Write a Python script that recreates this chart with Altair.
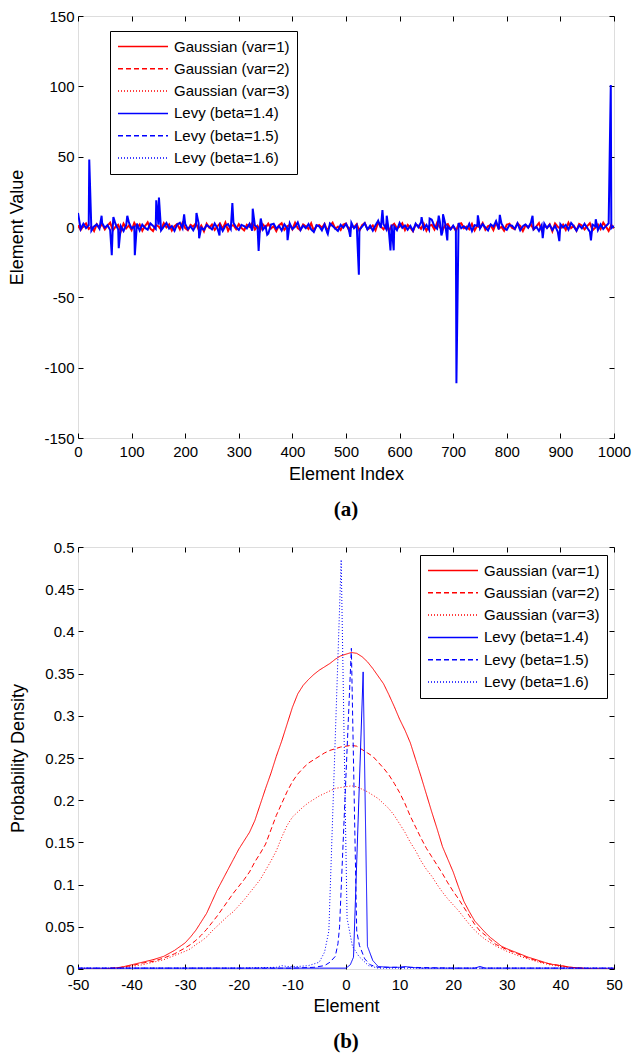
import altair as alt
import pandas as pd

# ---------------- shared series definitions ----------------
series_names = ["Gaussian (var=1)", "Gaussian (var=2)", "Gaussian (var=3)",
                "Levy (beta=1.4)", "Levy (beta=1.5)", "Levy (beta=1.6)"]
series_colors = ["#ff0000", "#ff0000", "#ff0000", "#0000ff", "#0000ff", "#0000ff"]
series_dash = [[1, 0], [5, 3], [1, 2], [1, 0], [5, 3], [1, 2]]

# ---------------- panel (a): element values ----------------
a_index = [i * 5 for i in range(201)]
a_red = [
    1.2, -2.1, 0.8, 2.6, -1.4, 0.3, -2.8, 1.9, -0.6, 2.2,
    -1.7, 0.9, 3.1, -2.4, 0.2, 1.6, -3.0, 2.4, -0.9, 1.1,
    -2.2, 2.9, -0.4, 1.8, -2.6, 0.7, 3.3, -1.2, -2.9, 1.4,
    0.5, -1.8, 2.7, -0.3, 1.9, -2.5, 0.6, 2.1, -1.6, 3.0,
    -0.8, -2.3, 1.5, 0.2, 2.8, -1.9, 1.0, -3.1, 2.3, -0.5,
    1.7, -2.0, 0.4, 2.5, -1.3, 3.2, -2.7, 0.9, 1.3, -1.5,
    2.0, -0.7, -2.4, 1.6, 0.1, 2.9, -1.8, 0.8, -2.6, 1.9,
    -0.4, 2.4, -1.1, 0.6, -2.9, 1.2, 2.7, -2.0, 0.3, 1.5,
    -1.6, 3.0, -0.9, -2.2, 1.8, 0.5, -1.4, 2.6, -2.8, 0.7,
    1.4, -0.6, 2.2, -2.5, 0.9, 3.1, -1.2, 0.2, -2.1, 1.7,
    2.5, -1.9, 0.6, -0.3, 2.0, -2.7, 1.3, 2.8, -1.5, -0.8,
    1.1, -2.4, 3.3, 0.4, -1.7, 1.9, -2.9, 0.8, 2.3, -1.0,
    0.2, 2.6, -2.2, 1.5, -0.5, -3.0, 1.8, 0.9, -1.3, 2.4,
    -2.6, 0.7, 1.6, -1.8, 3.0, -0.2, -2.3, 1.2, 2.1, -1.4,
    0.5, -2.8, 1.9, 2.7, -0.9, 0.3, -1.6, 2.2, -2.5, 1.0,
    -0.4, 2.9, -1.9, 0.6, 1.4, -2.2, 3.2, -1.1, 0.1, -2.7,
    1.7, 2.3, -0.7, -1.5, 2.6, 0.8, -2.9, 1.3, -0.3, 2.0,
    -1.8, 0.4, 2.8, -2.4, 1.1, -0.6, 1.9, -3.1, 2.5, 0.2,
    -1.2, 1.6, -2.0, 3.0, -0.8, 0.9, -2.6, 2.2, 1.0, -1.7,
    0.6, 2.7, -2.3, -0.5, 1.8, -1.4, 3.1, 0.3, -2.8, 1.5,
    -0.9,
]
a_blue = [
    10.0, -1.5, 2.3, -0.8, 1.1, -2.6, 0.4, 1.9, -1.2, 2.8,
    -0.5, 1.3, -2.2, 0.9, 2.1, -1.8, 0.6, -2.9, 1.5, 3.2,
    -1.0, 0.3, 2.4, -2.5, 1.7, -0.6, -1.9, 2.6, 0.8, -1.3,
    1.6, -2.4, 0.2, 2.9, -1.1, 0.7, -2.7, 1.8, 3.0, -0.9,
    2.2, -1.6, 0.5, -2.3, 1.2, 2.7, -0.4, -2.0, 1.4, 0.1,
    -1.7, 2.5, -0.7, 1.0, -2.8, 0.9, 2.0, -1.4, 3.1, -0.2,
    -2.1, 1.5, 0.6, -1.0, 2.3, -2.6, 1.1, -0.3, 2.8, -1.9,
    0.4, -4.8, 1.7, 2.4, -1.2, 0.8, -2.5, 1.9, -0.6, 2.6,
    -1.5, 0.2, 3.3, -2.2, 1.0, -0.8, 2.1, -1.7, -3.6, 1.3,
    0.5, -2.4, 1.8, -4.2, 2.5, 0.7, -1.1, -2.8, 1.6, -0.5,
    2.2, -1.3, 3.0, -0.9, 1.4, -2.1, 0.3, 2.7, -1.8, 0.9,
    -2.6, 1.2, 4.5, -0.7, 2.0, -1.5, -3.1, 1.7, 0.4, -2.3,
    2.9, -0.6, 1.1, -1.9, 0.8, -2.7, 2.4, -0.2, 3.4, -1.4,
    1.5, -2.0, 5.2, 0.6, -1.2, 4.1, -3.5, 2.6, 0.2, -1.8,
    1.0, -2.2, 2.8, -0.9, 0.5, -1.6, 2.3, -2.9, 1.3, 0.7,
    -1.1, 2.1, -0.4, -2.5, 1.9, 0.3, 4.2, -1.7, 2.5, -0.8,
    -2.0, 1.4, 0.9, -1.3, 2.7, -2.4, 0.6, 1.8, -0.5, 3.1,
    -1.6, 0.2, -2.8, 1.2, 2.4, -0.7, 1.6, -2.1, 0.8, -3.3,
    2.0, -0.3, 1.5, -1.9, 2.9, 0.4, -2.6, 1.1, -1.0, 2.3,
    -0.6, -3.4, 1.7, 0.5, -2.2, 1.9, -1.4, 0.7, 2.6, -0.9,
    0.8,
]
a_spike_index = [21, 44, 63, 66, 76, 92, 106, 146, 151, 198, 221, 226, 264, 288,
                 326, 337, 341, 353, 391, 466, 508, 524, 568, 576, 583, 589, 641,
                 656, 673, 678, 681, 689, 706, 746, 787, 848, 867, 898, 957, 966,
                 994]
a_spike_value = [48, 8, -20, 7, -15, 8, -20, 19, 21, 9, 10, -8, -6, 17,
                 13, -17, 6, -5.5, -9.4, -5, -7, -34, 12, 8, -16.6, -16.6, 7,
                 6, 8, -6, 9, -9.5, -111, 8.3, 8.6, 8, -8, -10, -9.5, 5.5,
                 101]

a_x_ticks = [0, 100, 200, 300, 400, 500, 600, 700, 800, 900, 1000]
a_y_ticks = [-150, -100, -50, 0, 50, 100, 150]

# ---------------- panel (b): probability densities ----------------
g_x = [-50, -46, -44, -42, -40, -38, -36, -34, -32,
       -30, -29, -28, -27, -26, -25, -24, -23, -22, -21, -20, -19, -18, -17, -16,
       -15, -14, -13, -12, -11, -10, -9, -8, -7, -6, -5, -4, -3, -2, -1,
       0, 1, 2, 3, 4, 5, 6, 7, 8, 9, 10, 11, 12, 13, 14, 15, 16, 17, 18, 19,
       20, 21, 22, 23, 24, 25, 26, 27, 28, 29, 30,
       32, 34, 36, 38, 40, 42, 44, 46, 50]
g1_y = [0, 0, 0.0005, 0.002, 0.005, 0.008, 0.011, 0.015, 0.022,
        0.031, 0.038, 0.046, 0.056, 0.066, 0.08, 0.094, 0.106, 0.118, 0.13, 0.142,
        0.152, 0.162, 0.176, 0.195,
        0.214, 0.232, 0.252, 0.27, 0.29, 0.31, 0.326, 0.336, 0.343, 0.349, 0.354,
        0.358, 0.362, 0.367, 0.371,
        0.373, 0.375, 0.374, 0.37, 0.364, 0.356, 0.347, 0.338, 0.325, 0.311, 0.296,
        0.283, 0.268, 0.248, 0.228, 0.207, 0.186, 0.166, 0.145, 0.13,
        0.115, 0.097, 0.08, 0.068, 0.057, 0.05, 0.043, 0.037, 0.032, 0.027, 0.024,
        0.019, 0.014, 0.01, 0.006, 0.004, 0.002, 0.001, 0, 0]
g2_y = [0, 0, 0.001, 0.002, 0.004, 0.007, 0.009, 0.013, 0.018,
        0.025, 0.029, 0.034, 0.04, 0.047, 0.055, 0.063, 0.072, 0.081, 0.09, 0.098,
        0.106, 0.115, 0.127, 0.137,
        0.148, 0.165, 0.182, 0.196, 0.21, 0.222, 0.231, 0.238, 0.244, 0.248, 0.252,
        0.256, 0.259, 0.261, 0.263,
        0.264, 0.265, 0.264, 0.26, 0.256, 0.252, 0.245, 0.238, 0.23, 0.22, 0.209,
        0.196, 0.181, 0.168, 0.155, 0.143, 0.133, 0.123, 0.113, 0.102,
        0.092, 0.083, 0.073, 0.063, 0.053, 0.045, 0.04, 0.034, 0.029, 0.026, 0.023,
        0.018, 0.013, 0.009, 0.006, 0.004, 0.002, 0.001, 0, 0]
g3_y = [0, 0, 0, 0.001, 0.003, 0.005, 0.008, 0.011, 0.016,
        0.021, 0.024, 0.029, 0.033, 0.038, 0.045, 0.051, 0.057, 0.063, 0.068, 0.075,
        0.082, 0.09, 0.098, 0.106,
        0.117, 0.128, 0.14, 0.156, 0.17, 0.18, 0.186, 0.192, 0.197, 0.201, 0.205,
        0.208, 0.211, 0.214, 0.215,
        0.216, 0.217, 0.216, 0.213, 0.21, 0.206, 0.202, 0.196, 0.19, 0.182, 0.172,
        0.162, 0.15, 0.14, 0.128, 0.118, 0.11, 0.1, 0.091, 0.083,
        0.076, 0.069, 0.061, 0.053, 0.046, 0.04, 0.035, 0.031, 0.027, 0.024, 0.021,
        0.016, 0.012, 0.008, 0.005, 0.003, 0.001, 0, 0, 0]

l14_x = [-50, -30, -20, -12, -10, -5, 0, 0.8, 1.4, 3.2, 4.0, 5.0, 6.0, 8, 10, 11, 12,
         14, 24, 25, 26, 30, 50]
l14_y = [0.001, 0.001, 0.001, 0.001, 0.001, 0.001, 0.001, 0.005, 0.014, 0.352, 0.027,
         0.01, 0.003, 0.002, 0.002, 0.003, 0.002, 0.001, 0.001, 0.003, 0.001, 0.001,
         0.001]
l15_x = [-50, -20, -10, -6, -4, -3, -2, -1.5, -1.2, 1.0, 2.0, 2.5, 3.5, 4.5, 6, 10, 12,
         20, 50]
l15_y = [0.001, 0.001, 0.001, 0.002, 0.004, 0.008, 0.015, 0.03, 0.05, 0.38, 0.045,
         0.028, 0.012, 0.005, 0.002, 0.002, 0.002, 0.001, 0.001]
l16_x = [-50, -20, -13, -12, -11, -9, -7, -5, -4, -3.2, -0.9, 0.2, 1.2, 2.4, 4.2, 6, 10,
         20, 50]
l16_y = [0.001, 0.001, 0.002, 0.004, 0.003, 0.003, 0.004, 0.008, 0.02, 0.045, 0.485,
         0.06, 0.027, 0.015, 0.004, 0.001, 0.001, 0.001, 0.001]

b_x_ticks = [-50, -40, -30, -20, -10, 0, 10, 20, 30, 40, 50]
b_y_ticks = [0, 0.05, 0.1, 0.15, 0.2, 0.25, 0.3, 0.35, 0.4, 0.45, 0.5]

# ---------------- build tables ----------------
rows_a = []
for i, v in zip(a_index, a_red):
    rows_a.append({"series": series_names[0], "x": i, "y": v})
for i, v in zip(a_index + a_spike_index, a_blue + a_spike_value):
    rows_a.append({"series": series_names[3], "x": i, "y": v})
df_a = pd.DataFrame(rows_a)

rows_b = []
for name, xs, ys in [(series_names[0], g_x, g1_y), (series_names[1], g_x, g2_y),
                     (series_names[2], g_x, g3_y), (series_names[3], l14_x, l14_y),
                     (series_names[4], l15_x, l15_y), (series_names[5], l16_x, l16_y)]:
    for xv, yv in zip(xs, ys):
        rows_b.append({"series": name, "x": xv, "y": yv})
df_b = pd.DataFrame(rows_b)

# ---------------- styling helpers ----------------
FONT = "Liberation Sans, Arial, sans-serif"
LABEL_EXPR = "datum.value < 0 ? '-' + format(-datum.value, '~g') : format(datum.value, '~g')"


def main_axis(orient, values, title, title_pad, label_pad):
    return alt.Axis(orient=orient, values=values, title=title, grid=False, domain=False,
                    ticks=True, tickSize=5, offset=-5, tickColor="black", tickWidth=1,
                    labelFont=FONT, labelFontSize=15, labelColor="black",
                    labelPadding=label_pad,
                    labelExpr=LABEL_EXPR, labelFlush=False,
                    titleFont=FONT, titleFontSize=18, titleFontWeight="normal",
                    titleColor="black", titlePadding=title_pad)


def mirror_axis(orient, values):
    return alt.Axis(orient=orient, values=values, title=None, labels=False, grid=False,
                    domain=False, ticks=True, tickSize=5, offset=-5, tickColor="black",
                    tickWidth=1, minExtent=0, maxExtent=0)


def legend(x, y):
    return alt.Legend(title=None, orient="none", legendX=x, legendY=y,
                      symbolType="stroke", symbolSize=2500, symbolStrokeWidth=1.5,
                      clipHeight=17, rowPadding=5.3, padding=7, labelOffset=5,
                      strokeColor="black", fillColor="white",
                      labelFont=FONT, labelFontSize=15, labelColor="black",
                      labelLimit=300)


def panel(df, xdom, ydom, xticks, yticks, xtitle, ytitle, leg_x, leg_y, lw, label,
          xpad, xlabpad, ypad):
    xs = alt.Scale(domain=xdom, nice=False, zero=False)
    ys = alt.Scale(domain=ydom, nice=False, zero=False)
    lines = alt.Chart(df).mark_line(strokeWidth=lw, clip=True).encode(
        x=alt.X("x:Q", scale=xs, axis=main_axis("bottom", xticks, xtitle, xpad, xlabpad)),
        y=alt.Y("y:Q", scale=ys, axis=main_axis("left", yticks, ytitle, ypad, 4)),
        color=alt.Color("series:N",
                        scale=alt.Scale(domain=series_names, range=series_colors),
                        legend=legend(leg_x, leg_y)),
        strokeDash=alt.StrokeDash("series:N",
                                  scale=alt.Scale(domain=series_names, range=series_dash),
                                  legend=legend(leg_x, leg_y)),
    )
    ghost = alt.Chart(df).mark_point(opacity=0).encode(
        x=alt.X("x:Q", scale=xs, axis=mirror_axis("top", xticks)),
        y=alt.Y("y:Q", scale=ys, axis=mirror_axis("right", yticks)),
    )
    return alt.layer(lines, ghost).resolve_axis(x="independent", y="independent").properties(
        width=536, height=422,
        title=alt.TitleParams(text=label, orient="bottom",
                              font="Liberation Serif, Times New Roman, serif",
                              fontSize=21, fontWeight="bold", color="black", offset=16),
    )


top = panel(df_a, [0, 1000], [-150, 150], a_x_ticks, a_y_ticks,
            "Element Index", "Element Value", 32, 15, 2.0, "(a)", 6, 6, 17)
bottom = panel(df_b, [-50, 50], [0, 0.5], b_x_ticks, b_y_ticks,
               "Element", "Probability Density", 342, 8, 1.0, "(b)", 5, 8, 17)

chart = alt.vconcat(top, bottom, spacing=18).resolve_legend(
    color="independent", strokeDash="independent"
).configure_view(
    stroke="black", strokeWidth=1
).configure(background="white", padding=0)

chart.save("out.html", embed_options={"renderer": "svg", "actions": False})
